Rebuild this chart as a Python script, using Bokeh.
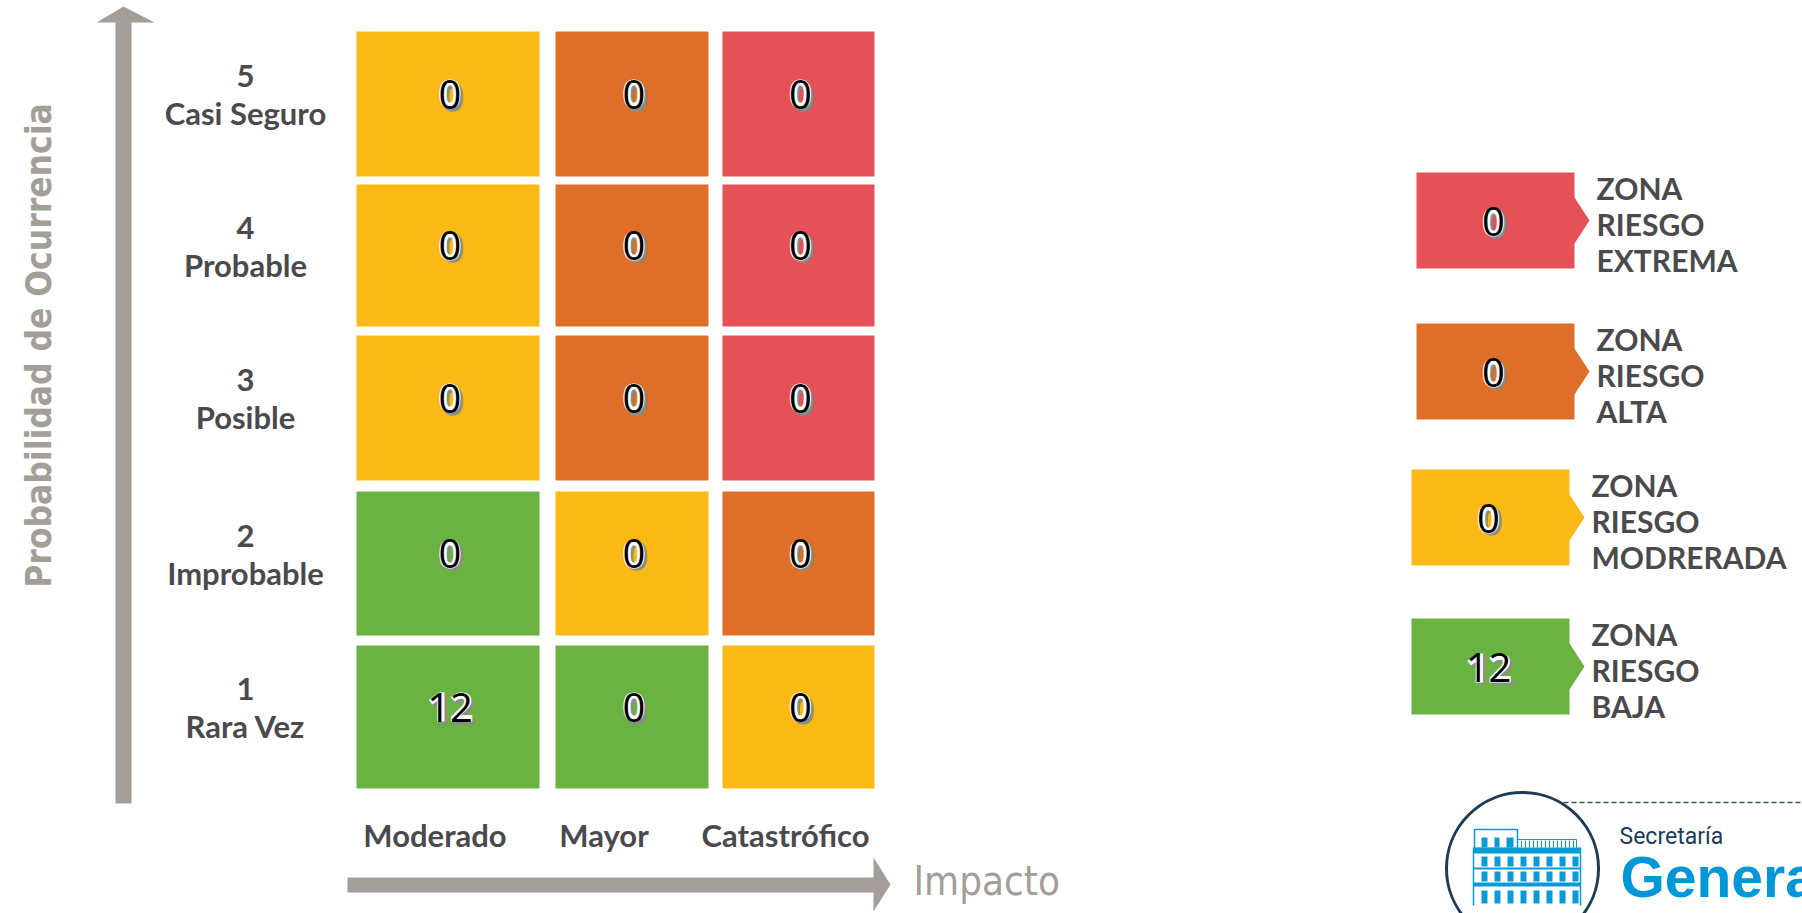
import math
from bokeh.plotting import figure
from bokeh.models import Range1d
from bokeh.core.properties import value
from bokeh.embed import file_html
from bokeh.resources import INLINE

# ---------------- data ----------------
impacts = ["Moderado", "Mayor", "Catastrófico"]
prob_levels = ["5", "4", "3", "2", "1"]
prob_names = ["Casi Seguro", "Probable", "Posible", "Improbable", "Rara Vez"]
# rows follow prob_levels (5 -> 1), columns follow impacts
counts = [
    [0, 0, 0],
    [0, 0, 0],
    [0, 0, 0],
    [0, 0, 0],
    [12, 0, 0],
]
zones = [
    ["M", "A", "E"],
    ["M", "A", "E"],
    ["M", "A", "E"],
    ["B", "M", "A"],
    ["B", "B", "M"],
]
zone_keys = ["E", "A", "M", "B"]
zone_titles = ["EXTREMA", "ALTA", "MODRERADA", "BAJA"]
zone_counts = [0, 0, 0, 12]
y_title = "Probabilidad de Ocurrencia"
x_title = "Impacto"

# ---------------- style / layout ----------------
ZONE_COLORS = {"E": "#e65057", "A": "#df6f28", "M": "#fbb916", "B": "#6ab343"}
ARROW = "#a39e98"
LABEL = "#4a4a4c"
COL_L = [356, 555, 722]
COL_R = [539, 708, 874]
ROW_T = [31, 184, 335, 491, 645]
ROW_B = [176, 326, 480, 635, 788]
XLAB_DX = [-13, -28, -13]
LEG_L = [1416, 1416, 1411, 1411]
LEG_T = [172, 323, 469, 618]
LEG_W, LEG_H, LEG_TIP = 158, 96, 15

p = figure(width=1802, height=913, x_range=Range1d(0, 1802), y_range=Range1d(913, 0),
           output_backend="svg", toolbar_location=None, min_border=0,
           x_axis_location=None, y_axis_location=None)
p.grid.visible = False
p.outline_line_color = None
p.background_fill_color = "white"
p.border_fill_color = "white"

num_font = value("Open Sans")


def outlined_numbers(xs, ys, texts):
    p.text(x=[v + 2.5 for v in xs], y=[v + 2.5 for v in ys], text=texts, text_color="#8c8c8c",
           text_outline_color="#8c8c8c", text_font=num_font, text_font_style="bold",
           text_font_size="40px", text_align="center", text_baseline="middle")
    p.text(x=xs, y=ys, text=texts, text_color="white", text_outline_color="white",
           text_font=num_font, text_font_style="bold", text_font_size="40px",
           text_align="center", text_baseline="middle")
    p.text(x=xs, y=ys, text=texts, text_color="black",
           text_font=num_font, text_font_size="40px", text_align="center", text_baseline="middle")


# ---------------- heatmap cells ----------------
ql, qr, qt, qb, qc = [], [], [], [], []
nx, ny, nt = [], [], []
for r in range(len(prob_levels)):
    for c in range(len(impacts)):
        ql.append(COL_L[c]); qr.append(COL_R[c])
        qt.append(ROW_T[r]); qb.append(ROW_B[r])
        qc.append(ZONE_COLORS[zones[r][c]])
        nx.append((COL_L[c] + COL_R[c]) / 2 + 2)
        ny.append((ROW_T[r] + ROW_B[r]) / 2 - 10)
        nt.append(str(counts[r][c]))
p.quad(left=ql, right=qr, top=qt, bottom=qb, fill_color=qc, line_color=None)
outlined_numbers(nx, ny, nt)

# ---------------- row labels ----------------
lab_font = value("Lato")
rc = [(ROW_T[r] + ROW_B[r]) / 2 for r in range(len(prob_levels))]
p.text(x=[245] * len(prob_levels), y=[v - 28 for v in rc], text=prob_levels, text_color=LABEL,
       text_font=lab_font, text_font_style="bold", text_font_size="31px",
       text_align="center", text_baseline="middle")
p.text(x=[245] * len(prob_levels), y=[v + 9 for v in rc], text=prob_names, text_color=LABEL,
       text_font=lab_font, text_font_style="bold", text_font_size="31px",
       text_align="center", text_baseline="middle")

# ---------------- column labels ----------------
cc = [(COL_L[c] + COL_R[c]) / 2 + XLAB_DX[c] for c in range(len(impacts))]
p.text(x=cc, y=[834] * len(impacts), text=impacts, text_color=LABEL,
       text_font=lab_font, text_font_style="bold", text_font_size="31px",
       text_align="center", text_baseline="middle")

# ---------------- arrows ----------------
p.quad(left=[115], right=[131], top=[21], bottom=[803], fill_color=ARROW, line_color=None)
p.patch(x=[96, 154, 123], y=[22, 22, 6], fill_color=ARROW, line_color=None)
p.quad(left=[347], right=[874], top=[877], bottom=[892], fill_color=ARROW, line_color=None)
p.patch(x=[873, 890, 873], y=[857, 884, 911], fill_color=ARROW, line_color=None)

cond = value("DejaVu Sans Condensed")
p.text(x=[38], y=[345], text=[y_title], angle=math.pi / 2, text_color=ARROW,
       text_font=cond, text_font_style="bold", text_font_size="35px",
       text_align="center", text_baseline="middle")
p.text(x=[913], y=[880], text=[x_title], text_color=ARROW,
       text_font=cond, text_font_size="40px", text_align="left", text_baseline="middle")

# ---------------- legend ----------------
xs, ys, lc = [], [], []
lnx, lny, lnt = [], [], []
tx, ty, tt = [], [], []
for i, k in enumerate(zone_keys):
    L, T = LEG_L[i], LEG_T[i]
    R, B = L + LEG_W, T + LEG_H
    M = T + LEG_H / 2
    xs.append([L, R, R, R + LEG_TIP, R, R, L])
    ys.append([T, T, T + 0.26 * LEG_H, M, B - 0.26 * LEG_H, B, B])
    lc.append(ZONE_COLORS[k])
    lnx.append(L + LEG_W / 2 - 2); lny.append(M + 1); lnt.append(str(zone_counts[i]))
    for j, s in enumerate(["ZONA", "RIESGO", zone_titles[i]]):
        tx.append(R + 22); ty.append(T + 15 + j * 36); tt.append(s)
p.patches(xs=xs, ys=ys, fill_color=lc, line_color=None)
outlined_numbers(lnx, lny, lnt)
p.text(x=tx, y=ty, text=tt, text_color=LABEL, text_font=lab_font, text_font_style="bold",
       text_font_size="30px", text_align="left", text_baseline="middle")

# ---------------- logo ----------------
BLUE = "#0a9ad8"
NAVY = "#1d3b57"
p.circle(x=[1522], y=[868], radius=76, fill_color=None, line_color=NAVY, line_width=3)
p.line(x=[1563, 1802], y=[802, 802], line_color="#3a5670", line_dash="5 3", line_width=1.5)
# building
p.quad(left=[1474], right=[1517], top=[829], bottom=[848], fill_color=None, line_color=BLUE, line_width=1.5)
p.quad(left=[1481, 1494, 1506], right=[1487, 1499, 1513], top=[837] * 3, bottom=[847] * 3,
       fill_color=BLUE, line_color=None)
p.quad(left=[1517], right=[1576], top=[839], bottom=[848], fill_color=None, line_color=BLUE, line_width=1)
p.segment(x0=list(range(1521, 1575, 4)), y0=[840] * 14, x1=list(range(1521, 1575, 4)), y1=[847] * 14,
          line_color=BLUE, line_width=1)
p.quad(left=[1473, 1473, 1473], right=[1580, 1580, 1580], top=[847, 867, 882], bottom=[853, 869, 886],
       fill_color=BLUE, line_color=None)
p.segment(x0=[1473, 1580], y0=[847, 847], x1=[1473, 1580], y1=[905, 905], line_color=BLUE, line_width=1.5)
wx = [1481 + 13 * i for i in range(8)]
p.quad(left=wx, right=[v + 6 for v in wx], top=[856] * 8, bottom=[866] * 8, fill_color=BLUE, line_color=None)
p.quad(left=wx, right=[v + 6 for v in wx], top=[871] * 8, bottom=[881] * 8, fill_color=BLUE, line_color=None)
p.quad(left=wx, right=[v + 6 for v in wx], top=[890] * 8, bottom=[903] * 8, fill_color=BLUE, line_color=None)
p.text(x=[1619], y=[836], text=["Secretaría"], text_color=NAVY, text_font=value("Roboto"),
       text_font_size="23px", text_align="left", text_baseline="middle")
p.text(x=[1620], y=[876], text=["General"], text_color="#0097d9", text_font=value("Liberation Sans"),
       text_font_style="bold", text_font_size="57px", text_align="left", text_baseline="middle")

open("out.html", "w").write(file_html(p, INLINE))
